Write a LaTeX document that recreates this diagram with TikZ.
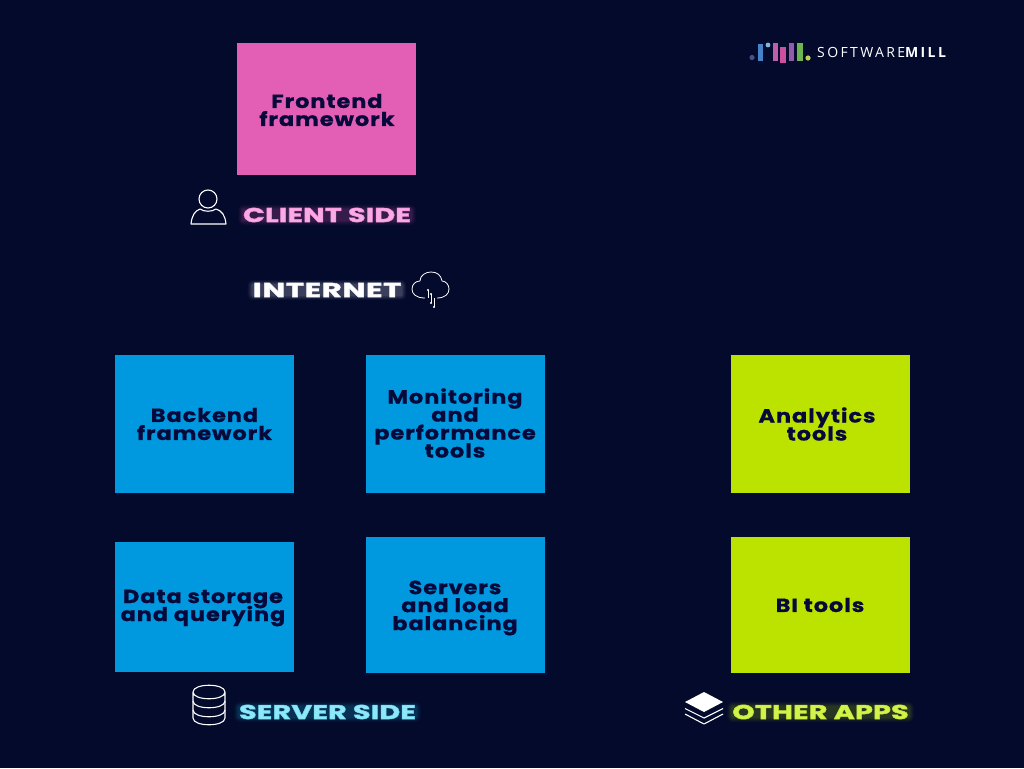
\documentclass[tikz,border=0pt]{standalone}
\usetikzlibrary{backgrounds,calc}
\usepackage{fontspec}
\setmainfont{Poppins}
\newfontfamily\logoreg[LetterSpace=17]{Open Sans}
\newfontfamily\logobold[LetterSpace=17]{Open Sans Bold}
\newfontfamily\hcore[FakeBold=.7,FakeStretch=1.18,LetterSpace=5]{Poppins Bold}
\newfontfamily\lcore[FakeBold=2.6,FakeStretch=1.43,LetterSpace=1]{Poppins Bold}
\newfontfamily\lwide[FakeBold=2.6,FakeStretch=1.53,LetterSpace=3]{Poppins Bold}
\definecolor{bg}{HTML}{040A2C}
\definecolor{pinkbox}{HTML}{E35FB5}
\definecolor{bluebox}{HTML}{0098DF}
\definecolor{limebox}{HTML}{BCE300}
\definecolor{ink}{HTML}{07093A}
\definecolor{pinkcore}{HTML}{F9ACE4}
\definecolor{cyancore}{HTML}{8FE8F8}
\definecolor{limecore}{HTML}{D2F24C}
\definecolor{pinkglow}{HTML}{E860C0}
\definecolor{cyanglow}{HTML}{20B8E8}
\definecolor{limeglow}{HTML}{A8D010}
% stroke colour for the outline of emboldened text
\newcommand{\strokergb}[3]{\special{pdf:code #1 #2 #3 RG}}
\newcommand{\halo}[2]{\begin{pgfonlayer}{background}
  \foreach \myexp/\myop in {5/.03,4/.04,3/.05,2/.06,1/.07}{
    \fill[#2,opacity=\myop,rounded corners=\myexp pt+1pt] ($(#1.south west)+(-\myexp,\myexp-2)$) rectangle ($(#1.north east)+(\myexp,2-\myexp)$);
  }
\end{pgfonlayer}}
\tikzset{
  x=1pt,y=-1pt,
  card/.style={anchor=north west,inner sep=0pt,outer sep=0pt},
  cardtext/.style={align=center,font=\fontsize{19}{18}\selectfont\hcore,text=ink,inner sep=0pt,execute at begin node={\lineskiplimit=-100pt\relax}},
  glowlabel/.style={inner sep=0pt,font=\fontsize{20}{20}\selectfont},
  icon/.style={draw=white,line width=1.1pt,fill=none,line join=round},
}
\begin{document}
\begin{tikzpicture}
\begin{pgfonlayer}{background}
\fill[bg] (0,0) rectangle (1024,768);
\end{pgfonlayer}
\useasboundingbox (0,0) rectangle (1024,768);
% cards
\node[card,fill=pinkbox,minimum width=179pt,minimum height=132pt] (front) at (237,43) {};
\node[card,fill=bluebox,minimum width=179pt,minimum height=138pt] (back) at (115,355) {};
\node[card,fill=bluebox,minimum width=179pt,minimum height=138pt] (mon) at (366,355) {};
\node[card,fill=bluebox,minimum width=179pt,minimum height=130pt] (data) at (115,542) {};
\node[card,fill=bluebox,minimum width=179pt,minimum height=136pt] (serv) at (366,537) {};
\node[card,fill=limebox,minimum width=179pt,minimum height=138pt] (ana) at (731,355) {};
\node[card,fill=limebox,minimum width=179pt,minimum height=136pt] (bi) at (731,537) {};
% card texts
\node[cardtext] (frontt) at (327,110) {Frontend\\framework};
\node[cardtext] (backt) at (204.5,424) {Backend\\framework};
\node[cardtext] (mont) at (455,423) {Monitoring\\and\\performance\\tools};
\node[cardtext] (datat) at (203,608) {Data storage\\and querying};
\node[cardtext] (servt) at (455,608) {Servers\\and load\\balancing};
\node[cardtext] (anat) at (817,424) {Analytics\\tools};
\node[cardtext] (bit) at (820,605) {BI tools};
% glow labels
\node[glowlabel,text=pinkcore] (client) at (327,215) {\lcore\strokergb{.96}{.55}{.85}CLIENT SIDE};
\node[glowlabel,text=white] (net) at (327,290) {\lwide\strokergb{.92}{.92}{.96}INTERNET};
\node[glowlabel,text=cyancore] (server) at (327.5,712) {\lcore\strokergb{.42}{.85}{.95}SERVER SIDE};
\node[glowlabel,text=limecore] (other) at (820.5,712) {\lcore\strokergb{.76}{.90}{.18}OTHER APPS};
\halo{client}{pinkglow}
\halo{net}{white}
\halo{server}{cyanglow}
\halo{other}{limeglow}
% person icon
\node[draw=white,line width=1.1pt,circle,minimum size=18pt,inner sep=0pt] (head) at (208,199) {};
\draw[icon] (191,224) .. controls (192,215) and (195,211) .. (200,209) .. controls (204,212) and (212,212) .. (216,209) .. controls (222,211) and (225,215) .. (226,224) -- cycle;
% cloud icon
\draw[icon,line width=.8pt] (425,298) .. controls (416,298) and (412,294) .. (412,289) .. controls (412,284) and (416,281) .. (420,281) .. controls (420,275) and (426,272) .. (431,272) .. controls (437,272) and (441,275) .. (442,281) .. controls (446,281) and (449,285) .. (449,289) .. controls (449,294) and (445,298) .. (437,298);
\draw[icon,line width=.7pt] (428,290) -- (428,298) (431,294) -- (431,303) (434,298) -- (434,307);
\foreach \p in {(428,290),(431,294),(431,303),(434,307)} \fill[white] \p circle (1.2);
% database icon
\draw[icon] (193,692) .. controls (193,683) and (225,683) .. (225,692) .. controls (225,701) and (193,701) .. (193,692) -- (193,718) .. controls (193,727) and (225,727) .. (225,718) -- (225,692);
\draw[icon] (193,701) .. controls (193,710) and (225,710) .. (225,701);
\draw[icon] (193,710) .. controls (193,719) and (225,719) .. (225,710);
% layers icon
\fill[white] (704,692) -- (723,702) -- (704,712) -- (685,702) -- cycle;
\draw[icon] (685,708.5) -- (704,718) -- (723,708.5);
\draw[icon] (685,714) -- (704,724) -- (723,714);
% logo
\definecolor{lgdot}{RGB}{70,80,140}
\definecolor{lgblue}{RGB}{70,130,200}
\definecolor{lglight}{RGB}{130,180,220}
\definecolor{lgpink}{RGB}{190,95,170}
\definecolor{lgmag}{RGB}{205,80,160}
\definecolor{lgpur}{RGB}{150,90,170}
\definecolor{lggreen}{RGB}{110,180,80}
\definecolor{lgyel}{RGB}{190,210,80}
\fill[lgdot] (752,57.5) circle (2.6);
\fill[lgblue] (758,44) rectangle (763,61);
\fill[lglight] (768,45) circle (2.4);
\fill[lgpink] (773,43) rectangle (778,61);
\fill[lgmag] (780,47) rectangle (786,63);
\fill[lgpur] (789,43) rectangle (794,61);
\fill[lggreen] (797,43) rectangle (803,61);
\fill[lgyel] (808,58) circle (2.6);
\node[inner sep=0pt,anchor=west,text=white,font=\fontsize{14}{14}\selectfont] (logo) at (817,52) {\logoreg SOFTWARE\logobold MILL};
\end{tikzpicture}
\end{document}
